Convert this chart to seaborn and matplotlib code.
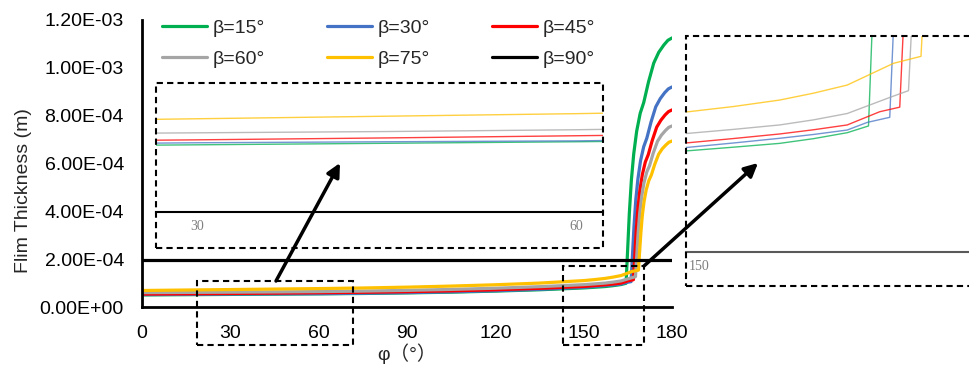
import matplotlib
matplotlib.use('Agg')
import matplotlib.pyplot as plt
import pandas as pd
import seaborn as sns
from matplotlib.patches import Rectangle, FancyArrowPatch
from matplotlib.ticker import FormatStrFormatter

# film thickness (m) vs phi (deg) for each cone angle beta
phi_low = [0, 15, 30, 45, 60, 75, 90, 105, 120, 135, 150, 153.6, 157.3, 160.0, 162.7]

h15_low = [5.05e-5, 5.15e-5, 5.26e-5, 5.38e-5, 5.5e-5, 5.65e-5, 5.9e-5, 6.2e-5, 6.65e-5, 7.2e-5,
           7.97e-5, 8.25e-5, 8.55e-5, 8.92e-5, 9.39e-5]
h30_low = [5.2e-5, 5.3e-5, 5.42e-5, 5.5e-5, 5.57e-5, 5.75e-5, 6.0e-5, 6.35e-5, 6.8e-5, 7.4e-5,
           8.24e-5, 8.58e-5, 8.95e-5, 9.25e-5, 9.6e-5]
h45_low = [5.4e-5, 5.52e-5, 5.65e-5, 5.8e-5, 5.97e-5, 6.15e-5, 6.4e-5, 6.75e-5, 7.2e-5, 7.8e-5,
           8.6e-5, 8.93e-5, 9.29e-5, 9.62e-5, 1.0e-4]
h60_low = [6.0e-5, 6.1e-5, 6.2e-5, 6.3e-5, 6.44e-5, 6.65e-5, 6.95e-5, 7.35e-5, 7.85e-5, 8.5e-5,
           9.34e-5, 9.65e-5, 1.0e-4, 1.04e-4, 1.09e-4]
h75_low = [6.9e-5, 7.1e-5, 7.3e-5, 7.5e-5, 7.7e-5, 7.95e-5, 8.3e-5, 8.75e-5, 9.3e-5, 1.0e-4,
           1.104e-4, 1.145e-4, 1.196e-4, 1.25e-4, 1.314e-4]

phi15_rise = [164.4, 164.9, 165.5, 166.2, 167.0, 168.0, 169.2, 170.4, 172.0, 173.8, 175.5, 177.2, 178.6, 180]
h15_rise = [9.92e-5, 2.3e-4, 3.9e-4, 5.3e-4, 6.4e-4, 7.35e-4, 8.1e-4, 8.55e-4, 9.4e-4, 1.02e-3,
            1.065e-3, 1.095e-3, 1.115e-3, 1.125e-3]
phi30_rise = [164.3, 166.1, 166.54, 167.09, 167.7, 168.42, 169.31, 170.38, 171.45, 172.87, 174.48,
              176.0, 177.51, 178.75, 180]
h30_rise = [1.02e-4, 1.06e-4, 2.09e-4, 3.37e-4, 4.48e-4, 5.35e-4, 6.11e-4, 6.7e-4, 7.06e-4, 7.73e-4,
            8.37e-4, 8.71e-4, 8.96e-4, 9.12e-4, 9.2e-4]
phi45_rise = [165.3, 166.9, 167.32, 167.83, 168.41, 169.09, 169.93, 170.93, 171.94, 173.28, 174.8,
              176.23, 177.66, 178.82, 180]
h45_rise = [1.104e-4, 1.14e-4, 2.04e-4, 3.16e-4, 4.12e-4, 4.88e-4, 5.54e-4, 6.06e-4, 6.37e-4, 6.96e-4,
            7.52e-4, 7.81e-4, 8.03e-4, 8.17e-4, 8.24e-4]
phi60_rise = [166.2, 167.6, 168.0, 168.48, 169.03, 169.67, 170.46, 171.42, 172.37, 173.64, 175.08,
              176.43, 177.78, 178.88, 180]
h60_rise = [1.22e-4, 1.27e-4, 2.07e-4, 3.06e-4, 3.92e-4, 4.59e-4, 5.18e-4, 5.64e-4, 5.91e-4, 6.44e-4,
            6.93e-4, 7.19e-4, 7.38e-4, 7.51e-4, 7.57e-4]
phi75_rise = [166.4, 168.6, 168.96, 169.41, 169.91, 170.5, 171.23, 172.11, 172.99, 174.15, 175.47,
              176.72, 177.96, 178.97, 180]
h75_rise = [1.485e-4, 1.54e-4, 2.23e-4, 3.07e-4, 3.81e-4, 4.4e-4, 4.89e-4, 5.28e-4, 5.52e-4, 5.97e-4,
            6.39e-4, 6.62e-4, 6.78e-4, 6.89e-4, 6.94e-4]

phi90 = [0, 180]
h90 = [1.95e-4, 1.95e-4]

labels = ['β=15°', 'β=30°', 'β=45°', 'β=60°', 'β=75°', 'β=90°']
colors = ['#00B050', '#4472C4', '#FF0000', '#A5A5A5', '#FFC000', '#000000']
x_ticks = [0, 30, 60, 90, 120, 150, 180]
y_ticks = [0, 2e-4, 4e-4, 6e-4, 8e-4, 1.0e-3, 1.2e-3]

series = [
    (phi_low + phi15_rise, h15_low + h15_rise),
    (phi_low + phi30_rise, h30_low + h30_rise),
    (phi_low + phi45_rise, h45_low + h45_rise),
    (phi_low + phi60_rise, h60_low + h60_rise),
    (phi_low + phi75_rise, h75_low + h75_rise),
    (phi90, h90),
]
frames = []
for lab, (p, h) in zip(labels, series):
    frames.append(pd.DataFrame({'phi': p, 'h': h, 'beta': lab}))
df = pd.concat(frames, ignore_index=True)
pal = dict(zip(labels, colors))

sns.set_style('white')
plt.rcParams['font.family'] = ['Liberation Sans', 'Noto Sans CJK SC', 'DejaVu Sans']
plt.rcParams['axes.unicode_minus'] = False

W, H = 970, 368
fig = plt.figure(figsize=(W / 100, H / 100), dpi=100)


def fx(x):
    return x / W


def fy(y):
    return 1 - y / H


# main chart
ax = fig.add_axes([fx(142), fy(307), (672 - 142) / W, (307 - 20) / H])
sns.lineplot(data=df, x='phi', y='h', hue='beta', hue_order=labels, palette=pal,
             linewidth=2.3, errorbar=None, ax=ax)
ax.set_xlim(0, 180)
ax.set_ylim(0, 1.2e-3)
ax.set_xticks(x_ticks)
ax.set_yticks(y_ticks)
ax.yaxis.set_major_formatter(FormatStrFormatter('%.2E'))
ax.tick_params(axis='both', length=0, labelsize=14, colors='#000000')
ax.tick_params(axis='x', pad=13)
ax.tick_params(axis='y', pad=13)
for s in ['top', 'right']:
    ax.spines[s].set_visible(False)
for s in ['left', 'bottom']:
    ax.spines[s].set_color('black')
    ax.spines[s].set_linewidth(2)
ax.set_xlabel('φ（°）', fontsize=14)
ax.set_ylabel('Flim Thickness (m)', fontsize=14)
ax.xaxis.set_label_coords(0.5, -0.128)
ax.yaxis.set_label_coords(-0.207, 0.404)

handles, labs = ax.get_legend_handles_labels()
order = [0, 3, 1, 4, 2, 5]
ax.legend([handles[i] for i in order], [labs[i] for i in order], ncol=3,
          loc='upper left', bbox_to_anchor=(fx(162), fy(19)), bbox_transform=fig.transFigure,
          frameon=False, fontsize=14, borderpad=0, borderaxespad=0,
          handlelength=2.3, handletextpad=0.3, columnspacing=3.2, labelspacing=0.7)

# inset 1: phi 30-60
ax1 = fig.add_axes([fx(156), fy(212), (603 - 156) / W, (212 - 83) / H])
sns.lineplot(data=df, x='phi', y='h', hue='beta', hue_order=labels, palette=pal,
             linewidth=1.0, alpha=0.75, errorbar=None, legend=False, ax=ax1)
ax1.set_xlim(26.75, 62.1)
ax1.set_ylim(0, 1.01e-4)

# inset 2: phi 150 onwards
ax2 = fig.add_axes([fx(686), fy(252), (970 - 686) / W, (252 - 36) / H])
sns.lineplot(data=df, x='phi', y='h', hue='beta', hue_order=labels, palette=pal,
             linewidth=1.0, alpha=0.75, errorbar=None, legend=False, ax=ax2)
ax2.set_xlim(149.8, 172.52)
ax2.set_ylim(0, 1.7e-4)

for a, ticks, spc in [(ax1, [30, 60], 'black'), (ax2, [150], '#595959')]:
    a.patch.set_alpha(0)
    for s in ['top', 'right', 'left']:
        a.spines[s].set_visible(False)
    a.spines['bottom'].set_color(spc)
    a.spines['bottom'].set_linewidth(1.5)
    a.set_xticks(ticks)
    a.set_yticks([])
    a.set_xlabel('')
    a.set_ylabel('')
    a.tick_params(axis='x', length=0, pad=6, labelsize=10, colors='#7f7f7f')
    for t in a.get_xticklabels():
        t.set_family(['Liberation Serif'])
for t in ax2.get_xticklabels():
    t.set_horizontalalignment('left')
ax1.set_xticks([26.75, 62.1], minor=True)
ax1.tick_params(axis='x', which='minor', length=6, width=1.5, direction='inout', color='black')

# zoom boxes and arrows
boxes = [(197, 281, 353, 345), (563, 266, 644, 345), (156, 83, 603, 248), (686, 36, 975, 286)]
for x0, y0, x1, y1 in boxes:
    fig.add_artist(Rectangle((fx(x0), fy(y1)), (x1 - x0) / W, (y1 - y0) / H,
                             transform=fig.transFigure, fill=False, edgecolor='black',
                             linewidth=1.5, linestyle=(0, (3, 2)), zorder=5))
for (x0, y0), (x1, y1) in [((276, 281), (340, 163)), ((644, 266), (758, 163))]:
    fig.add_artist(FancyArrowPatch((fx(x0), fy(y0)), (fx(x1), fy(y1)),
                                   transform=fig.transFigure, arrowstyle='-|>',
                                   mutation_scale=20, linewidth=2.5, color='black',
                                   shrinkA=0, shrinkB=0, zorder=6))

fig.savefig('out.png', dpi=100)
